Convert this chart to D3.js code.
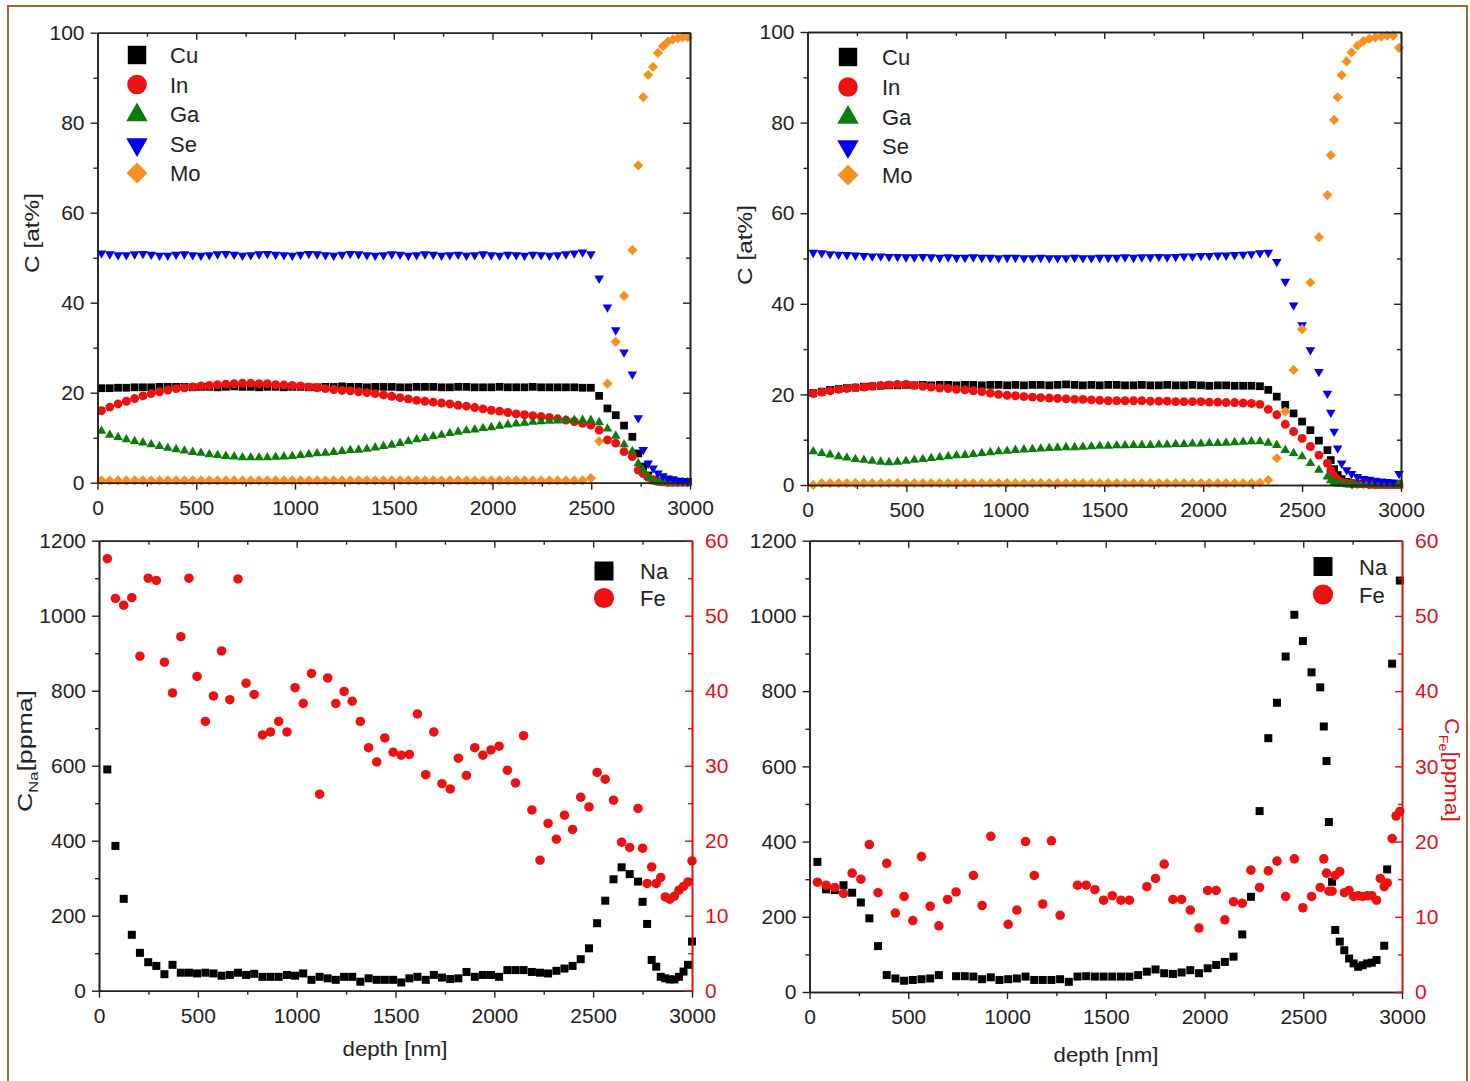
<!DOCTYPE html>
<html>
<head>
<meta charset="utf-8">
<script src="https://cdn.jsdelivr.net/npm/d3@7"></script>
<style>
body { margin: 0; background: #fff; }
svg { display: block; }
</style>
</head>
<body>
<svg></svg>
<script>
var WIDTH = 1470;
var HEIGHT = 1081;
var FONT = 'Liberation Sans, Arial, sans-serif';
var INK = '#222';
var RED_AXIS = '#e01010';

// tick labels
var depthTicks = [0, 500, 1000, 1500, 2000, 2500, 3000];
var depthMinor = [250, 750, 1250, 1750, 2250, 2750];
var atTicks = [0, 20, 40, 60, 80, 100];
var atMinor = [10, 30, 50, 70, 90];
var ppmaTicks = [0, 200, 400, 600, 800, 1000, 1200];
var ppmaMinor = [100, 300, 500, 700, 900, 1100];
var feTicks = [0, 10, 20, 30, 40, 50, 60];
var feMinor = [5, 15, 25, 35, 45, 55];

// top left profile (depth nm, at%)
var tlDepth = [20,62,104,146,188,230,272,314,356,398,
440,482,524,566,608,650,692,734,776,818,
860,902,944,986,1028,1070,1112,1154,1196,1238,
1280,1322,1364,1406,1448,1490,1532,1574,1616,1658,
1700,1742,1784,1826,1868,1910,1952,1994,2036,2078,
2120,2162,2204,2246,2288,2330,2372,2414,2456,2498,
2540,2582,2624,2666,2708,2738,2763,2788,2813,2838,
2863,2888,2913,2938,2963,2988];
var tlCu = [21.0,21.0,21.1,21.1,21.2,21.2,21.2,21.3,21.3,21.3,
21.3,21.2,21.3,21.3,21.2,21.3,21.4,21.3,21.3,21.2,
21.3,21.3,21.2,21.3,21.3,21.2,21.2,21.3,21.3,21.4,
21.3,21.3,21.2,21.3,21.3,21.3,21.2,21.2,21.3,21.3,
21.3,21.2,21.2,21.3,21.3,21.2,21.2,21.2,21.3,21.2,
21.2,21.2,21.3,21.2,21.2,21.2,21.2,21.2,21.1,21.1,
19.3,16.5,15.0,12.7,10.2,6.5,3.6,1.6,0.7,0.3,
0.2,0.1,0.1,0.1,0.1,0.1];
var tlIn = [16.0,16.8,17.5,18.1,18.7,19.3,19.8,20.2,20.6,20.9,
21.1,21.3,21.5,21.6,21.8,21.9,22.0,22.1,22.1,22.0,
22.0,21.8,21.7,21.6,21.5,21.3,21.1,20.9,20.7,20.5,
20.4,20.2,20.0,19.8,19.5,19.2,18.9,18.6,18.3,18.1,
17.9,17.7,17.5,17.2,17.0,16.7,16.4,16.1,15.9,15.6,
15.3,15.1,14.9,14.7,14.5,14.2,13.9,13.6,13.2,12.8,
11.7,9.5,8.8,6.9,5.8,2.8,2.0,1.2,0.6,0.3,
0.2,0.1,0.1,0.1,0.1,0.1];
var tlGa = [11.5,10.6,10.1,9.6,9.2,8.9,8.5,8.1,7.7,7.4,
7.1,6.8,6.6,6.3,6.1,5.9,5.8,5.6,5.6,5.6,
5.6,5.7,5.8,5.9,6.1,6.3,6.5,6.6,6.8,7.0,
7.2,7.3,7.5,7.8,8.1,8.4,8.8,9.2,9.6,9.9,
10.3,10.6,11.0,11.3,11.6,11.8,12.1,12.3,12.6,12.9,
13.1,13.3,13.5,13.6,13.7,13.8,13.9,13.9,13.9,13.9,
13.4,12.0,10.4,8.5,7.0,4.3,2.8,1.3,0.3,0.1,
0.1,0.1,0.1,0.1,0.1,0.1];
var tlSe = [51.0,50.8,50.6,50.6,50.8,50.9,50.7,50.5,50.5,50.7,
50.8,50.6,50.5,50.6,50.8,50.9,50.7,50.5,50.6,50.8,
50.9,50.7,50.6,50.5,50.7,50.9,50.8,50.6,50.5,50.7,
50.9,50.8,50.6,50.5,50.6,50.8,50.7,50.5,50.6,50.8,
50.7,50.5,50.6,50.7,50.5,50.6,50.8,50.6,50.5,50.7,
50.6,50.5,50.7,50.6,50.5,50.6,50.8,51.0,51.2,50.8,
45.4,39.0,33.9,29.0,24.1,14.4,7.3,4.3,3.2,2.1,
1.5,1.0,0.8,0.5,0.4,0.3];
var tlMo = [0.5,0.5,0.5,0.5,0.5,0.5,0.5,0.5,0.5,0.5,
0.5,0.5,0.5,0.5,0.5,0.5,0.5,0.5,0.5,0.5,
0.5,0.5,0.5,0.5,0.5,0.5,0.5,0.5,0.5,0.5,
0.5,0.5,0.5,0.5,0.5,0.5,0.5,0.5,0.5,0.5,
0.5,0.5,0.5,0.5,0.5,0.5,0.5,0.5,0.5,0.5,
0.5,0.5,0.5,0.5,0.5,0.5,0.5,0.5,0.5,1.0,
9.2,22.0,31.3,41.5,51.7,70.5,85.7,90.6,92.4,95.5,
97.0,98.0,98.5,98.8,99.0,99.0];

// top right profile (depth nm, at%)
var trDepth = [29,72,114,157,199,242,285,327,370,412,
455,498,540,583,625,668,711,753,796,838,
881,924,966,1009,1051,1094,1137,1179,1222,1264,
1307,1350,1392,1435,1477,1520,1563,1605,1648,1690,
1733,1776,1818,1861,1903,1946,1989,2031,2074,2116,
2159,2202,2244,2287,2329,2372,2415,2457,2500,2542,
2585,2628,2645,2662,2680,2700,2725,2750,2780,2810,
2840,2870,2900,2930,2960,2990];
var trCu = [20.3,20.6,21.0,21.2,21.4,21.5,21.7,21.8,21.9,22.0,
22.0,22.1,22.0,22.1,22.0,22.1,22.1,22.0,22.1,22.1,
22.0,22.1,22.1,22.0,22.1,22.0,22.1,22.1,22.0,22.1,
22.2,22.1,22.0,22.1,22.0,22.1,22.1,22.0,22.0,22.1,
22.0,22.0,22.1,22.0,22.0,22.1,22.0,21.9,22.0,22.0,
21.9,21.9,21.9,21.8,21.0,19.5,17.7,15.8,14.0,12.1,
9.8,7.7,5.5,3.5,2.2,1.3,0.7,0.4,0.3,0.2,
0.2,0.1,0.1,0.1,0.1,0.1];
var trIn = [20.2,20.5,20.8,21.1,21.3,21.5,21.6,21.8,22.0,22.1,
22.2,22.2,22.0,21.8,21.6,21.4,21.3,21.1,21.0,20.8,
20.6,20.3,20.0,19.8,19.7,19.5,19.4,19.3,19.2,19.1,
19.0,18.9,18.9,18.8,18.7,18.6,18.6,18.6,18.6,18.6,
18.5,18.5,18.5,18.4,18.4,18.4,18.4,18.3,18.3,18.2,
18.2,18.1,18.0,17.8,16.7,15.5,13.4,11.8,10.3,8.5,
6.6,4.8,3.2,2.0,1.2,0.7,0.4,0.3,0.2,0.2,
0.1,0.1,0.1,0.1,0.1,0.1];
var trGa = [7.4,7.0,6.7,6.3,6.0,5.7,5.5,5.3,5.1,5.0,
5.1,5.3,5.5,5.7,5.9,6.1,6.3,6.5,6.6,6.8,
7.0,7.2,7.4,7.5,7.7,7.8,7.9,8.0,8.1,8.2,
8.3,8.3,8.4,8.5,8.6,8.6,8.7,8.7,8.8,8.8,
8.8,8.9,8.9,9.0,9.0,9.1,9.1,9.2,9.2,9.3,
9.4,9.5,9.6,9.6,9.3,8.8,7.7,7.0,6.3,4.8,
3.3,1.8,1.0,0.5,0.3,0.2,0.1,0.1,0.1,0.1,
0.1,0.1,0.1,0.1,0.1,0.1];
var trSe = [51.3,51.2,51.0,50.9,50.8,50.7,50.6,50.5,50.5,50.4,
50.4,50.3,50.3,50.4,50.3,50.2,50.3,50.2,50.2,50.3,
50.2,50.2,50.1,50.2,50.2,50.1,50.1,50.2,50.1,50.1,
50.1,50.2,50.1,50.1,50.2,50.2,50.2,50.3,50.2,50.3,
50.3,50.4,50.3,50.4,50.5,50.5,50.6,50.6,50.7,50.7,
50.8,50.9,51.0,51.2,51.3,49.3,44.9,39.7,35.3,29.8,
25.0,20.2,16.0,11.8,8.1,4.8,3.3,2.5,1.8,1.4,
1.2,1.0,0.8,0.7,0.6,2.5];
var trMo = [0.0,0.4,0.4,0.4,0.4,0.4,0.4,0.4,0.4,0.4,
0.4,0.4,0.4,0.4,0.4,0.4,0.4,0.4,0.4,0.4,
0.4,0.4,0.4,0.4,0.4,0.4,0.4,0.4,0.4,0.4,
0.4,0.4,0.4,0.4,0.4,0.4,0.4,0.4,0.4,0.4,
0.4,0.4,0.4,0.4,0.4,0.4,0.4,0.4,0.4,0.4,
0.4,0.4,0.4,0.5,1.1,5.9,16.2,25.4,34.4,44.7,
54.7,64.0,72.8,80.6,85.6,90.5,93.5,95.5,97.0,98.0,
98.5,98.8,99.0,99.2,99.2,96.5];

// bottom left (depth nm, Na ppma, Fe ppma)
var blDepth = [42,83,125,166,207,249,290,331,372,414,
455,496,538,579,620,662,703,744,785,827,
868,909,951,992,1033,1075,1116,1157,1198,1240,
1281,1322,1364,1405,1446,1488,1529,1570,1611,1653,
1694,1735,1777,1818,1859,1901,1942,1983,2024,2066,
2107,2148,2190,2231,2272,2314,2355,2396,2437,2479,
2520,2561,2603,2644,2685,2727,2750,2773,2796,2819,
2842,2865,2888,2911,2934,2957,2980,3000];
var blNa = [590,386,245,149,101,76,66,44,69,48,
48,46,48,46,40,42,48,42,45,37,
37,37,42,40,46,29,37,33,29,37,
37,24,33,29,29,29,22,33,37,29,
42,35,31,33,50,37,42,42,37,55,
55,55,50,48,46,53,59,66,84,113,
180,240,297,329,311,291,237,178,82,64,
37,33,30,30,37,51,69,131];
var blFe = [57.6,52.3,51.4,52.4,44.6,55.0,54.7,43.8,39.7,47.2,
55.0,41.9,35.9,39.3,45.3,38.8,54.9,41.0,39.5,34.1,
34.5,35.9,34.5,40.4,38.3,42.3,26.2,41.7,38.3,39.9,
38.6,35.9,32.4,30.5,33.7,31.8,31.4,31.5,36.9,28.8,
34.5,27.6,26.9,31.0,28.7,32.4,31.4,32.1,32.6,29.4,
27.7,34.0,24.1,17.4,22.3,20.2,23.4,21.5,25.8,24.5,
29.1,28.2,25.4,19.8,19.1,24.3,19.0,14.3,16.5,14.3,
15.1,12.5,12.2,12.6,13.4,13.9,14.5,17.3];

// bottom right (depth nm, Na ppma, Fe ppma)
var brDepth = [40,84,128,172,216,260,303,347,391,435,
479,523,567,611,655,699,742,786,830,874,
918,962,1006,1050,1094,1138,1181,1225,1269,1313,
1357,1401,1445,1489,1533,1577,1620,1664,1708,1752,
1796,1840,1884,1928,1972,2016,2059,2103,2147,2191,
2235,2279,2323,2367,2411,2455,2498,2542,2586,2604,
2618,2630,2646,2662,2685,2708,2732,2755,2778,2801,
2824,2847,2871,2890,2910,2925,2950,2970,2989];
var brNa = [346,273,271,284,264,238,196,122,45,36,
30,32,34,36,45,null,42,42,41,34,
39,32,34,36,41,32,32,32,34,27,
41,42,41,41,41,41,41,45,54,60,
50,48,52,58,50,63,72,80,94,153,
253,481,675,769,892,1003,933,850,810,706,
614,452,293,165,134,111,89,76,67,71,
76,78,85,null,123,326,873,null,1094];
var brFe = [14.6,14.2,13.9,13.1,15.8,15.0,19.6,13.2,17.1,10.5,
12.7,9.5,18.0,11.4,8.8,12.3,13.3,null,15.5,11.5,
20.7,null,9.0,10.9,20.0,15.5,11.7,20.1,10.2,null,
14.2,14.2,13.6,12.2,12.8,12.2,12.2,null,14.0,15.1,
17.0,12.3,12.3,10.9,8.5,13.5,13.5,9.6,12.0,11.8,
16.2,13.9,16.1,17.4,12.7,17.7,11.2,12.7,13.9,17.7,
15.8,13.4,13.4,15.5,16.0,13.2,13.5,12.7,12.8,12.7,
12.8,12.8,12.2,15.1,14.0,14.5,20.4,23.4,24.0];

var COLORS = {Cu: '#000000', In: '#ee1111', Ga: '#0b7d0b', Se: '#0000f0', Mo: '#f7901e', Na: '#000000', Fe: '#ee1111'};

var svg = d3.select('svg')
    .attr('width', WIDTH)
    .attr('height', HEIGHT)
    .attr('font-family', FONT);

svg.append('rect').attr('width', WIDTH).attr('height', HEIGHT).attr('fill', '#fff');
svg.append('rect')
    .attr('x', 8).attr('y', 6)
    .attr('width', 1459).attr('height', 1085)
    .attr('fill', 'none')
    .attr('stroke', '#9b6a34')
    .attr('stroke-width', 2);

function styleAxis(g, color) {
    g.attr('font-size', null).attr('font-family', null);
    g.selectAll('path.domain').attr('stroke', color).attr('stroke-width', 1.6);
    g.selectAll('line').attr('stroke', color).attr('stroke-width', 1.4);
    g.selectAll('text').attr('font-size', 21).attr('fill', color);
}

function addAxis(axis, tx, ty, color) {
    var g = svg.append('g')
        .attr('transform', 'translate(' + tx + ',' + ty + ')')
        .call(axis);
    styleAxis(g, color || INK);
    return g;
}

function frame(box, x, y, yTicks, yMinor, plainRight) {
    var fmt = d3.format('d');
    addAxis(d3.axisBottom(x).tickValues(depthTicks).tickSizeInner(7).tickSizeOuter(0).tickPadding(10).tickFormat(fmt), 0, box.bottom);
    addAxis(d3.axisBottom(x).tickValues(depthMinor).tickSizeInner(4).tickSizeOuter(0).tickFormat(''), 0, box.bottom);
    addAxis(d3.axisTop(x).tickValues(depthTicks).tickSizeInner(-7).tickSizeOuter(0).tickFormat(''), 0, box.top);
    addAxis(d3.axisTop(x).tickValues(depthMinor).tickSizeInner(-4).tickSizeOuter(0).tickFormat(''), 0, box.top);
    addAxis(d3.axisLeft(y).tickValues(yTicks).tickSizeInner(7).tickSizeOuter(0).tickPadding(6).tickFormat(fmt), box.left, 0);
    addAxis(d3.axisLeft(y).tickValues(yMinor).tickSizeInner(4).tickSizeOuter(0).tickFormat(''), box.left, 0);
    if (plainRight) {
        addAxis(d3.axisRight(y).tickValues(yTicks).tickSizeInner(-7).tickSizeOuter(0).tickFormat(''), box.right, 0);
        addAxis(d3.axisRight(y).tickValues(yMinor).tickSizeInner(-4).tickSizeOuter(0).tickFormat(''), box.right, 0);
    }
}

function scatter(depth, values, x, y, shape, area, color, angle) {
    var pts = depth.map(function(d, i) {
        return {depth: d, value: values[i]};
    }).filter(function(p) {
        return p.value !== null && p.value !== undefined;
    });
    svg.append('g').selectAll('path')
        .data(pts)
        .enter()
        .append('path')
        .attr('d', d3.symbol().type(shape).size(area))
        .attr('transform', function(p) {
            return 'translate(' + x(p.depth) + ',' + y(p.value) + ') rotate(' + (angle || 0) + ')';
        })
        .attr('fill', color);
}

function legend(items, mx, tx) {
    items.forEach(function(it) {
        svg.append('path')
            .attr('d', d3.symbol().type(it.shape).size(it.area))
            .attr('transform', 'translate(' + mx + ',' + it.y + ') rotate(' + (it.angle || 0) + ')')
            .attr('fill', it.color);
        svg.append('text')
            .attr('x', tx).attr('y', it.ty)
            .attr('font-size', 22)
            .attr('fill', INK)
            .text(it.label);
    });
}

// axis titles are stretched along the reading direction to the reference length
function title(x, y, angle, length, color, parts) {
    var t = svg.append('text')
        .attr('text-anchor', 'middle')
        .attr('font-size', 21)
        .attr('fill', color);
    parts.forEach(function(p) {
        t.append('tspan')
            .attr('font-size', p.sub ? 13 : 21)
            .attr('dy', p.dy || 0)
            .text(p.text);
    });
    var k = length / t.node().getComputedTextLength();
    t.attr('transform', 'translate(' + x + ',' + y + ') rotate(' + angle + ') scale(' + k + ',1)');
}

// top panels
function topPanel(box, depth, s, legX, legTX, legY, labelPos) {
    var x = d3.scaleLinear().domain([0, 3000]).range([box.left, box.right]);
    var y = d3.scaleLinear().domain([0, 100]).range([box.bottom, box.top]);
    scatter(depth, s.Cu, x, y, d3.symbolSquare, 60, COLORS.Cu);
    scatter(depth, s.In, x, y, d3.symbolCircle, 62, COLORS.In);
    scatter(depth, s.Ga, x, y, d3.symbolTriangle, 40, COLORS.Ga);
    scatter(depth, s.Se, x, y, d3.symbolTriangle, 40, COLORS.Se, 180);
    scatter(depth, s.Mo, x, y, d3.symbolSquare, 52, COLORS.Mo, 45);
    frame(box, x, y, atTicks, atMinor, true);
    legend([
        {label: 'Cu', shape: d3.symbolSquare, area: 340, color: COLORS.Cu, y: legY[0], ty: legY[0] + 8},
        {label: 'In', shape: d3.symbolCircle, area: 300, color: COLORS.In, y: legY[1], ty: legY[1] + 8},
        {label: 'Ga', shape: d3.symbolTriangle, area: 200, color: COLORS.Ga, y: legY[2] + 1, ty: legY[2] + 8},
        {label: 'Se', shape: d3.symbolTriangle, area: 200, color: COLORS.Se, angle: 180, y: legY[3] + 1, ty: legY[3] + 8},
        {label: 'Mo', shape: d3.symbolSquare, area: 220, color: COLORS.Mo, angle: 45, y: legY[4], ty: legY[4] + 8}
    ], legX, legTX);
    title(labelPos[0], labelPos[1], -90, 80, INK, [{text: 'C [at%]'}]);
}

topPanel({left: 97.5, right: 690, top: 32.7, bottom: 482.7}, tlDepth,
    {Cu: tlCu, In: tlIn, Ga: tlGa, Se: tlSe, Mo: tlMo},
    137, 170, [55, 84.5, 114, 143.5, 173], [39, 233]);
topPanel({left: 807.5, right: 1401, top: 32, bottom: 485}, trDepth,
    {Cu: trCu, In: trIn, Ga: trGa, Se: trSe, Mo: trMo},
    848, 882, [57, 87, 116.5, 145.5, 175], [752, 245]);

// bottom panels
function bottomPanel(box, depth, na, fe, legX, legTX, legY, showFeLabel, titlePos) {
    var x = d3.scaleLinear().domain([0, 3000]).range([box.left, box.right]);
    var y = d3.scaleLinear().domain([0, 1200]).range([box.bottom, box.top]);
    var yFe = d3.scaleLinear().domain([0, 60]).range([box.bottom, box.top]);
    scatter(depth, na, x, y, d3.symbolSquare, 64, COLORS.Na);
    scatter(depth, fe, x, yFe, d3.symbolCircle, 72, COLORS.Fe);
    frame(box, x, y, ppmaTicks, ppmaMinor, false);
    addAxis(d3.axisRight(yFe).tickValues(feTicks).tickSizeInner(-7).tickSizeOuter(0).tickPadding(13).tickFormat(d3.format('d')), box.right, 0, RED_AXIS);
    addAxis(d3.axisRight(yFe).tickValues(feMinor).tickSizeInner(-4).tickSizeOuter(0).tickFormat(''), box.right, 0, RED_AXIS);
    legend([
        {label: 'Na', shape: d3.symbolSquare, area: 361, color: COLORS.Na, y: legY[0], ty: legY[0] + 8},
        {label: 'Fe', shape: d3.symbolCircle, area: 320, color: COLORS.Fe, y: legY[1], ty: legY[1] + 8}
    ], legX, legTX);
    title(titlePos[0], titlePos[1], 0, 105, INK, [{text: 'depth [nm]'}]);
    if (showFeLabel) {
        title(1445, 770, 90, 104, RED_AXIS, [{text: 'C'}, {text: 'Fe', sub: true, dy: 6}, {text: '[ppma]', dy: -6}]);
    }
}

bottomPanel({left: 99, right: 692, top: 540.7, bottom: 990.7}, blDepth, blNa, blFe,
    604, 640, [571, 598], false, [395, 1056]);
bottomPanel({left: 809.5, right: 1402, top: 540.7, bottom: 992}, brDepth, brNa, brFe,
    1323, 1359, [566.5, 594.5], true, [1106, 1062]);

title(32, 751, -90, 122, INK, [{text: 'C'}, {text: 'Na', sub: true, dy: 6}, {text: '[ppma]', dy: -6}]);
</script>
</body>
</html>
